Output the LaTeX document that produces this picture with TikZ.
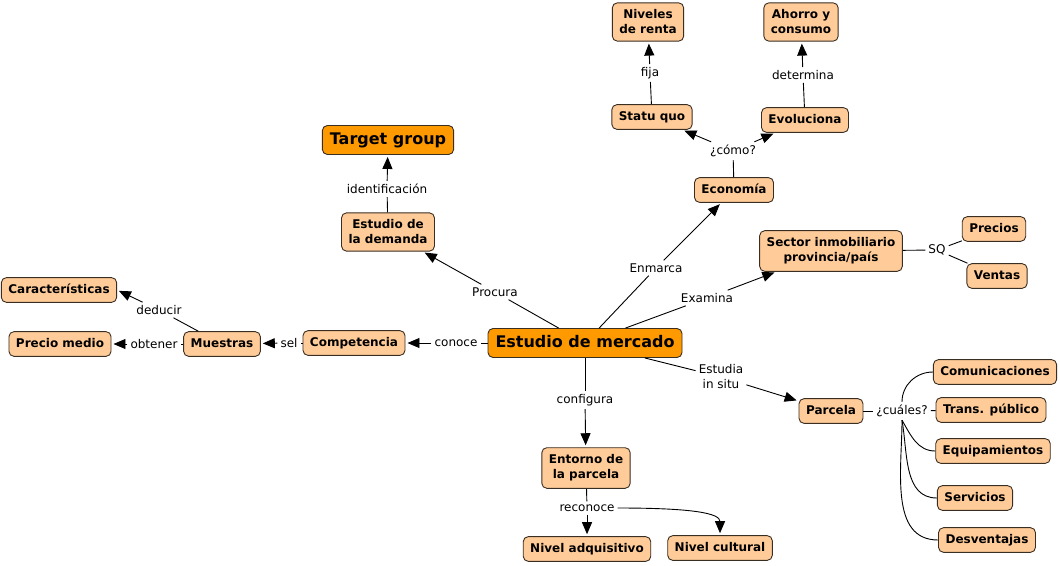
\documentclass[tikz,border=0pt]{standalone}
\usepackage{fontspec}
\setmainfont{DejaVu Sans}
\usetikzlibrary{arrows.meta}
\definecolor{peach}{HTML}{FFCC99}
\definecolor{orng}{HTML}{FF9900}
\definecolor{bord}{HTML}{3A2E22}
\begin{document}
\begin{tikzpicture}[x=1pt,y=-1pt,
 box/.style={draw=bord, line width=0.9pt, fill=peach, rounded corners=5pt, font=\bfseries\fontsize{12}{15}\selectfont, inner xsep=7pt, inner ysep=6.2pt, text height=9.3pt, text depth=3pt},
 box2/.style={draw=bord, line width=0.9pt, fill=peach, rounded corners=5pt, font=\bfseries\fontsize{12}{15}\selectfont, inner xsep=7pt, inner ysep=7pt, align=center},
 main/.style={box, fill=orng, font=\bfseries\fontsize{16}{18}\selectfont, text height=12pt, text depth=4pt, inner ysep=6.5pt, inner xsep=7.5pt},
 lbl/.style={font=\fontsize{12}{15}\selectfont, inner sep=3pt, align=center},
 ln/.style={line width=0.9pt},
 arr/.style={ln, -{Triangle[length=12pt,width=10pt]}, shorten >=2pt}]
\useasboundingbox (0,0) rectangle (1060,565);
% nodes
\node[box2] (niv) at (648,22) {Niveles\\de renta};
\node[box2] (aho) at (801,22) {Ahorro y\\consumo};
\node[box] (sq) at (652,117) {Statu quo};
\node[box] (evo) at (805,120) {Evoluciona};
\node[lbl] (fija) at (650,73) {fija};
\node[lbl] (det) at (803,75) {determina};
\node[lbl] (como) at (733,151) {¿cómo?};
\node[box] (eco) at (734,190) {Economía};
\node[main] (tg) at (388,140) {Target group};
\node[lbl] (ident) at (387,189) {identificación};
\node[box2] (edem) at (388,232) {Estudio de\\la demanda};
\node[box2] (sect) at (831,251) {Sector inmobiliario\\provincia/país};
\node[lbl] (sqlbl) at (937,250) {SQ};
\node[box] (prec) at (994,229) {Precios};
\node[box] (vent) at (997,276) {Ventas};
\node[box] (car) at (59,290) {Características};
\node[lbl] (ded) at (159,310) {deducir};
\node[box] (pm) at (60,344) {Precio medio};
\node[lbl] (obt) at (154,344) {obtener};
\node[box] (mue) at (222,344) {Muestras};
\node[lbl] (sel) at (289,343) {sel};
\node[box] (comp) at (354,343) {Competencia};
\node[lbl] (con) at (456,343) {conoce};
\node[main] (em) at (585,343) {Estudio de mercado};
\node[lbl] (proc) at (495,292) {Procura};
\node[lbl] (enm) at (656,268) {Enmarca};
\node[lbl] (exa) at (707,298) {Examina};
\node[lbl] (estu) at (721,377) {Estudia\\in situ};
\node[lbl] (conf) at (585,400) {configura};
\node[box] (par) at (831,411) {Parcela};
\node[lbl] (cua) at (902,411) {¿cuáles?};
\node[box] (comu) at (995,372) {Comunicaciones};
\node[box] (trans) at (991,410) {Trans. público};
\node[box] (equi) at (993,451) {Equipamientos};
\node[box] (serv) at (975,498) {Servicios};
\node[box] (desv) at (987,540) {Desventajas};
\node[box2] (ent) at (586,468) {Entorno de\\la parcela};
\node[lbl] (rec) at (587,508) {reconoce};
\node[box] (nadq) at (587,549) {Nivel adquisitivo};
\node[box] (ncul) at (720,548) {Nivel cultural};
% connectors
\draw[ln] (em) -- (proc); \draw[arr] (proc) -- (edem);
\draw[ln] (em) -- (enm); \draw[arr] (enm) -- (eco);
\draw[ln] (em) -- (exa); \draw[arr] (exa) -- (sect);
\draw[ln] (em) -- (estu); \draw[arr] (estu) -- (par);
\draw[ln] (em) -- (conf); \draw[arr] (conf) -- (ent);
\draw[ln] (em) -- (con); \draw[arr] (con) -- (comp);
\draw[ln] (comp) -- (sel); \draw[arr] (sel) -- (mue);
\draw[ln] (mue) -- (obt); \draw[arr] (obt) -- (pm);
\draw[ln] (mue) -- (ded); \draw[arr] (ded) -- (car.east);
\draw[ln] (edem) -- (ident); \draw[arr] (ident) -- (tg);
\draw[ln] (eco) -- (como); \draw[arr] (como) -- (sq); \draw[arr] (como) -- (evo);
\draw[ln] (sq) -- (fija); \draw[arr] (fija) -- (niv);
\draw[ln] (evo) -- (det); \draw[arr] (det) -- (aho);
\draw[ln] (sect) -- (sqlbl); \draw[ln] (sqlbl) -- (prec); \draw[ln] (sqlbl) -- (vent);
\draw[ln] (par) -- (cua); \draw[ln] (cua) -- (trans);
\draw[ln] (cua.north) to[out=90,in=180] (comu.west);
\draw[ln] (cua.south) to[out=-60,in=180] (equi.west);
\draw[ln] (cua.south) to[out=-80,in=180] (serv.west);
\draw[ln] (cua.south) to[out=-90,in=180] (desv.west);
\draw[ln] (ent) -- (rec); \draw[arr] (rec) -- (nadq);
\draw[arr] (rec.east) .. controls +(75,0) and +(0,-22) .. (ncul.north);
\end{tikzpicture}
\end{document}
